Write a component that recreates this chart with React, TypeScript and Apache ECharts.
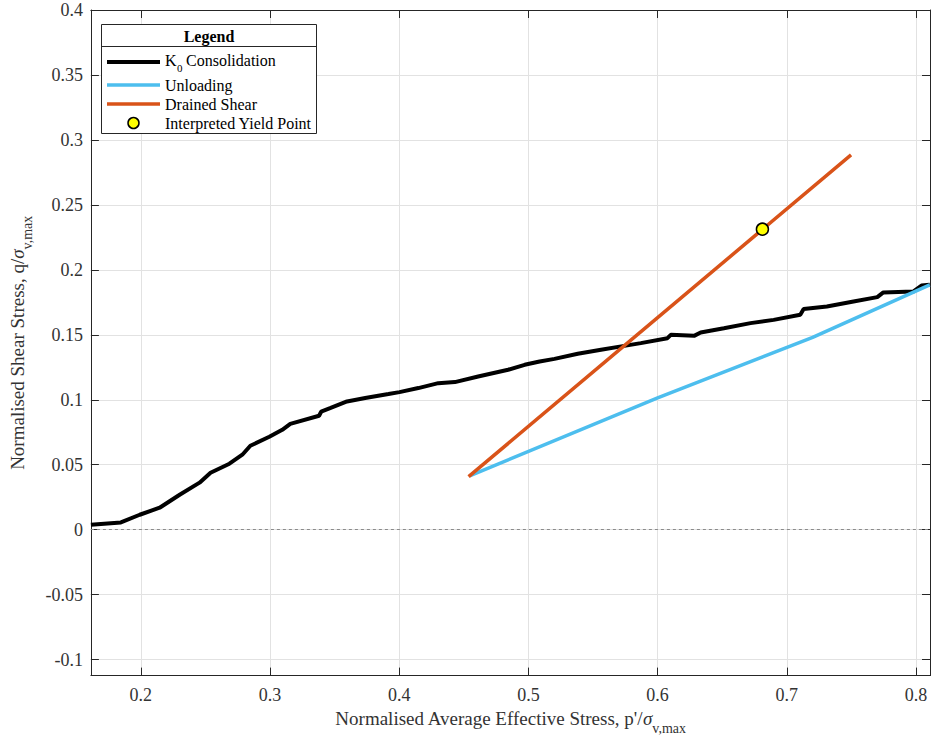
import React, { useEffect, useRef } from 'react';
import * as echarts from 'echarts';

// K0 consolidation path (p'/σv,max , q/σv,max)
const k0P = [0.1614, 0.1846, 0.1992, 0.2146, 0.2301, 0.2455, 0.2540, 0.2686, 0.2786, 0.2848, 0.2995, 0.3095, 0.3157, 0.3380, 0.3396, 0.3465, 0.3596, 0.3737, 0.3917, 0.4002, 0.4148, 0.4303, 0.4431, 0.4611, 0.4843, 0.4971, 0.5087, 0.5202, 0.5382, 0.5562, 0.5742, 0.5870, 0.6076, 0.6102, 0.6282, 0.6333, 0.6513, 0.6719, 0.6898, 0.7104, 0.7130, 0.7310, 0.7516, 0.7700, 0.7747, 0.7978, 0.8042, 0.8106];
const k0Q = [0.0038, 0.0056, 0.0115, 0.0169, 0.0269, 0.0362, 0.0438, 0.0508, 0.0577, 0.0646, 0.0715, 0.0769, 0.0815, 0.0877, 0.0908, 0.0935, 0.0987, 0.1013, 0.1044, 0.1059, 0.1090, 0.1128, 0.1136, 0.1179, 0.1231, 0.1269, 0.1295, 0.1315, 0.1354, 0.1385, 0.1415, 0.1436, 0.1474, 0.1500, 0.1492, 0.1518, 0.1551, 0.1590, 0.1615, 0.1654, 0.1698, 0.1718, 0.1756, 0.1790, 0.1826, 0.1833, 0.1879, 0.1885];

// Unloading path
const unloadP = [0.4545, 0.6000, 0.7200, 0.8106];
const unloadQ = [0.0415, 0.1015, 0.1480, 0.1885];

// Drained shear path
const shearP = [0.4537, 0.6000, 0.7497];
const shearQ = [0.0408, 0.1632, 0.2885];

// Interpreted yield point
const yieldP = [0.6811];
const yieldQ = [0.2313];

const X_MIN = 0.1614;
const X_MAX = 0.8108;
const Y_MIN = -0.1123;
const Y_MAX = 0.4;

const FONT = '"Liberation Serif", "Times New Roman", serif';
const AXIS_COLOR = '#262626';
const LABEL_COLOR = '#333333';
const GRID_COLOR = '#e2e2e2';

const zip = (a: number[], b: number[]) => a.map((v, i) => [v, b[i]]);

const fmt = (v: number) => {
  const r = Math.round(v * 100) / 100;
  if (Math.abs(v - r) > 1e-6) return '';
  return String(r === 0 ? 0 : r);
};

const nameRich = {
  a: { fontFamily: FONT, fontSize: 19, color: LABEL_COLOR },
  s: { fontFamily: FONT, fontSize: 19, fontStyle: 'italic', color: LABEL_COLOR },
  b: { fontFamily: FONT, fontSize: 14, color: LABEL_COLOR, padding: [20, 0, 0, 0] },
};

const legendRows = [
  { y: 62, color: '#000000', width: 4 },
  { y: 85, color: '#4DBEEE', width: 3.5 },
  { y: 104, color: '#D95319', width: 3.5 },
];

export default function App() {
  const ref = useRef<HTMLDivElement>(null);

  useEffect(() => {
    if (!ref.current) return;
    const chart = echarts.init(ref.current, undefined, { renderer: 'svg' });

    const legendText = (x: number, y: number, text: string, size = 16, extra: any = {}) => ({
      type: 'text',
      x,
      y,
      z: 101,
      style: {
        text,
        fontFamily: FONT,
        fontSize: size,
        fill: '#000',
        align: 'left',
        verticalAlign: 'middle',
        ...extra,
      },
    });

    const graphic: any[] = [
      {
        type: 'rect',
        z: 100,
        shape: { x: 101.5, y: 24.5, width: 215, height: 109 },
        style: { fill: '#ffffff', stroke: AXIS_COLOR, lineWidth: 1 },
      },
      {
        type: 'line',
        z: 101,
        shape: { x1: 101.5, y1: 46.5, x2: 316.5, y2: 46.5 },
        style: { stroke: AXIS_COLOR, lineWidth: 1 },
      },
      legendText(209, 36, 'Legend', 16, { fontWeight: 'bold', align: 'center' }),
      ...legendRows.map((r) => ({
        type: 'line',
        z: 101,
        shape: { x1: 107, y1: r.y, x2: 160, y2: r.y },
        style: { stroke: r.color, lineWidth: r.width },
      })),
      {
        type: 'circle',
        z: 101,
        shape: { cx: 133.5, cy: 123, r: 5.5 },
        style: { fill: '#FFFF00', stroke: '#000', lineWidth: 1.5 },
      },
      legendText(165, 60.5, 'K'),
      legendText(177, 68, '0', 11),
      legendText(186, 60.5, 'Consolidation'),
      legendText(165, 85, 'Unloading'),
      legendText(165, 104.5, 'Drained Shear'),
      legendText(165, 123, 'Interpreted Yield Point'),
    ];

    const baseAxisLine = { show: true, onZero: false, lineStyle: { color: AXIS_COLOR, width: 1 } };
    const baseTick = { show: true, inside: true, length: 8, lineStyle: { color: AXIS_COLOR, width: 1 } };

    chart.setOption({
      animation: false,
      backgroundColor: '#ffffff',
      grid: { left: 88, right: 1, top: 10, bottom: 64, containLabel: false },
      xAxis: [
        {
          type: 'value',
          position: 'bottom',
          min: X_MIN,
          max: X_MAX,
          splitNumber: 6,
          axisLine: baseAxisLine,
          axisTick: baseTick,
          axisLabel: {
            fontFamily: FONT,
            fontSize: 18,
            color: LABEL_COLOR,
            margin: 10,
            showMinLabel: false,
            showMaxLabel: false,
            formatter: fmt,
          },
          splitLine: { show: true, lineStyle: { color: GRID_COLOR, width: 1 } },
          name: "{a|Normalised Average Effective Stress, p'/}{s|σ}{b|v,max}",
          nameLocation: 'middle',
          nameGap: 21,
          nameTextStyle: { rich: nameRich },
        },
        {
          type: 'value',
          position: 'top',
          min: X_MIN,
          max: X_MAX,
          splitNumber: 6,
          axisLine: baseAxisLine,
          axisTick: baseTick,
          axisLabel: { show: false },
          splitLine: { show: false },
        },
      ],
      yAxis: [
        {
          type: 'value',
          position: 'left',
          min: Y_MIN,
          max: Y_MAX,
          splitNumber: 10,
          axisLine: baseAxisLine,
          axisTick: baseTick,
          axisLabel: {
            fontFamily: FONT,
            fontSize: 18,
            color: LABEL_COLOR,
            margin: 8,
            showMinLabel: false,
            formatter: fmt,
          },
          splitLine: { show: true, lineStyle: { color: GRID_COLOR, width: 1 } },
          name: '{a|Normalised Shear Stress, q/}{s|σ}{b|v,max}',
          nameLocation: 'middle',
          nameRotate: 90,
          nameGap: 48,
          nameTextStyle: { rich: nameRich },
        },
        {
          type: 'value',
          position: 'right',
          min: Y_MIN,
          max: Y_MAX,
          splitNumber: 10,
          axisLine: baseAxisLine,
          axisTick: baseTick,
          axisLabel: { show: false },
          splitLine: { show: false },
        },
      ],
      graphic,
      series: [
        {
          name: 'K0 Consolidation',
          type: 'line',
          data: zip(k0P, k0Q),
          showSymbol: false,
          symbol: 'none',
          lineStyle: { color: '#000000', width: 4 },
          itemStyle: { color: '#000000' },
          z: 2,
          markLine: {
            silent: true,
            symbol: ['none', 'none'],
            label: { show: false },
            z: 1,
            lineStyle: { type: [3, 3], color: '#8a8a8a', width: 1 },
            data: [{ yAxis: 0 }],
          },
        },
        {
          name: 'Unloading',
          type: 'line',
          data: zip(unloadP, unloadQ),
          showSymbol: false,
          symbol: 'none',
          lineStyle: { color: '#4DBEEE', width: 3.5 },
          itemStyle: { color: '#4DBEEE' },
          z: 3,
        },
        {
          name: 'Drained Shear',
          type: 'line',
          data: zip(shearP, shearQ),
          showSymbol: false,
          symbol: 'none',
          lineStyle: { color: '#D95319', width: 3.5 },
          itemStyle: { color: '#D95319' },
          z: 4,
        },
        {
          name: 'Interpreted Yield Point',
          type: 'scatter',
          data: zip(yieldP, yieldQ),
          symbol: 'circle',
          symbolSize: 12,
          itemStyle: { color: '#FFFF00', borderColor: '#000000', borderWidth: 1.5, opacity: 1 },
          z: 5,
        },
      ],
    });

    return () => {
      chart.dispose();
    };
  }, []);

  return (
    <div
      ref={ref}
      style={{ position: 'fixed', left: 0, top: 0, width: 931, height: 740, background: '#ffffff' }}
    />
  );
}
